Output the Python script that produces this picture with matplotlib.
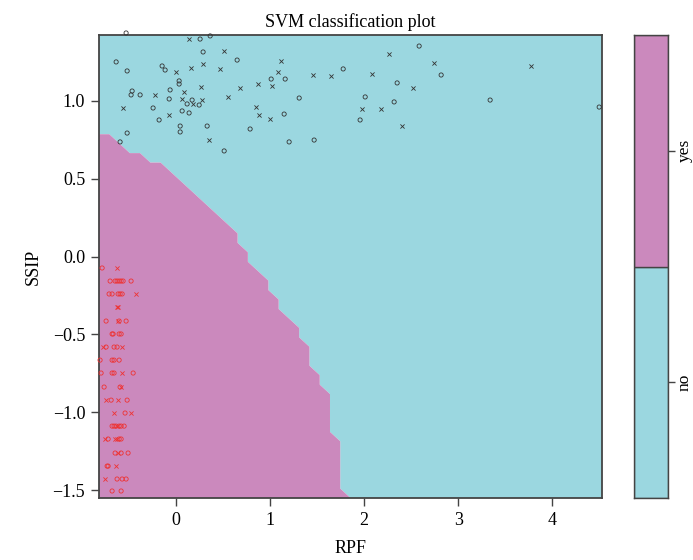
import numpy as np
import matplotlib
matplotlib.use("Agg")
import matplotlib.pyplot as plt

# ---- data ----
class_labels = ["no", "yes"]
# decision boundary of the "yes" region (x = RPF boundary at given SSIP)
boundary_y = [-1.55, -1.45, -1.10, -0.85, -0.70, -0.55, -0.40, -0.20, 0.00, 0.17, 0.32, 0.45, 0.56, 0.63, 0.78, 0.80]
boundary_x = [1.82, 1.76, 1.68, 1.58, 1.43, 1.36, 1.20, 0.99, 0.78, 0.60, 0.31, 0.06, -0.12, -0.30, -0.76, -0.85]

# class "no" points (black)
no_o_x = [-0.532, 0.255, 0.362, 0.287, -0.638, 0.649, -0.521, -0.149, -0.117, 1.777, 0.032, 0.032, 1.011, 1.160,
          -0.064, -0.468, -0.479, -0.383, -0.074, 0.170, 0.117, 0.245, 1.309, -0.245, 0.064, 0.138, 1.149, -0.181,
          0.043, 0.330, 0.043, 0.787, -0.521, -0.596, 1.202, 1.468, 0.511, 2.585, 2.819, 2.351, 2.011, 2.319,
          3.340, 4.500, 1.957]
no_o_y = [1.437, 1.398, 1.418, 1.315, 1.251, 1.263, 1.193, 1.225, 1.199, 1.206, 1.129, 1.109, 1.141, 1.141,
          1.071, 1.064, 1.039, 1.039, 1.013, 1.006, 0.981, 0.974, 1.019, 0.955, 0.936, 0.923, 0.916, 0.878,
          0.839, 0.839, 0.801, 0.820, 0.794, 0.737, 0.737, 0.749, 0.679, 1.353, 1.167, 1.116, 1.026, 0.994,
          1.006, 0.961, 0.878]
no_x_x = [0.138, 0.511, 1.117, 0.000, 0.160, 0.287, 0.468, 1.085, 1.457, 1.649, 0.872, 1.021, 0.266, 0.681,
          0.085, -0.223, 0.553, 0.064, 0.277, 0.181, -0.564, 0.851, -0.074, 0.883, 1.000, 0.351, 2.266, 2.745,
          3.777, 2.085, 2.521, 1.979, 2.181, 2.404]
no_x_y = [1.398, 1.321, 1.257, 1.186, 1.212, 1.238, 1.206, 1.186, 1.167, 1.161, 1.109, 1.096, 1.090, 1.084,
          1.058, 1.039, 1.026, 1.013, 1.006, 0.981, 0.955, 0.961, 0.910, 0.910, 0.884, 0.749, 1.302, 1.244,
          1.225, 1.174, 1.084, 0.949, 0.949, 0.839]

# class "yes" points (red)
yes_o_x = [-0.787,
           -0.702, -0.649, -0.628, -0.606, -0.585, -0.564, -0.479,
           -0.713, -0.681, -0.617, -0.596, -0.574,
           -0.745, -0.606, -0.532,
           -0.681, -0.670, -0.606, -0.585,
           -0.745, -0.660, -0.628,
           -0.809, -0.681, -0.660, -0.606,
           -0.798, -0.681, -0.660, -0.457,
           -0.766, -0.596,
           -0.691, -0.521,
           -0.543,
           -0.681, -0.660, -0.638, -0.606, -0.585, -0.553,
           -0.723, -0.606, -0.585,
           -0.649, -0.585, -0.511,
           -0.734, -0.723,
           -0.628, -0.574, -0.532,
           -0.681, -0.585]
yes_o_y = [-0.073,
           -0.157, -0.157, -0.157, -0.157, -0.157, -0.157, -0.157,
           -0.240, -0.240, -0.240, -0.240, -0.240,
           -0.414, -0.414, -0.414,
           -0.497, -0.497, -0.497, -0.497,
           -0.581, -0.581, -0.581,
           -0.665, -0.665, -0.665, -0.665,
           -0.748, -0.748, -0.748, -0.748,
           -0.838, -0.838,
           -0.922, -0.922,
           -1.005,
           -1.089, -1.089, -1.089, -1.089, -1.089, -1.089,
           -1.172, -1.172, -1.172,
           -1.262, -1.262, -1.262,
           -1.346, -1.346,
           -1.429, -1.429, -1.429,
           -1.506, -1.506]
yes_x_x = [-0.628, -0.426, -0.628, -0.617, -0.617, -0.777, -0.574, -0.574, -0.585, -0.745, -0.617,
           -0.660, -0.479, -0.628, -0.755, -0.649, -0.628, -0.617, -0.638, -0.755]
yes_x_y = [-0.073, -0.240, -0.324, -0.324, -0.414, -0.581, -0.581, -0.748, -0.838, -0.922, -0.922,
           -1.005, -1.005, -1.089, -1.172, -1.172, -1.172, -1.262, -1.346, -1.429]

x_ticks = [0, 1, 2, 3, 4]
y_ticks = [-1.5, -1.0, -0.5, 0.0, 0.5, 1.0]

# ---- style ----
col_no = "#9bd7e0"
col_yes = "#cb89bd"
edge = "#444444"
plt.rcParams['font.family'] = ['Liberation Serif', 'DejaVu Serif']
plt.rcParams['font.size'] = 13

xlim = (-0.82, 4.53)
ylim = (-1.551, 1.424)

fig = plt.figure(figsize=(6.93, 5.6), dpi=100)
ax = fig.add_axes([0.1429, 0.1107, 0.7258, 0.8268])
cax = fig.add_axes([0.9149, 0.1107, 0.049, 0.8268])

# decision regions on a 50x50 grid
gx = np.linspace(xlim[0], xlim[1], 50)
gy = np.linspace(ylim[0], ylim[1], 50)
GX, GY = np.meshgrid(gx, gy)
bx = np.interp(GY, boundary_y, boundary_x, left=boundary_x[0], right=-5.0)
Z = (GX < bx).astype(float)
ax.contourf(GX, GY, Z, levels=[-0.5, 0.5, 1.5], colors=[col_no, col_yes], antialiased=True)

ax.scatter(no_o_x, no_o_y, marker='o', s=9, facecolors='none', edgecolors='#333333', linewidths=0.6, clip_on=False, zorder=3)
ax.scatter(no_x_x, no_x_y, marker='x', s=9, color='#333333', linewidths=0.6, clip_on=False, zorder=3)
ax.scatter(yes_o_x, yes_o_y, marker='o', s=9, facecolors='none', edgecolors='#ee3333', linewidths=0.6, clip_on=False, zorder=3)
ax.scatter(yes_x_x, yes_x_y, marker='x', s=9, color='#ee3333', linewidths=0.6, clip_on=False, zorder=3)

ax.set_xlim(*xlim)
ax.set_ylim(*ylim)
ax.set_xticks(x_ticks)
ax.set_xticklabels([str(t) for t in x_ticks])
ax.set_yticks(y_ticks)
ax.set_yticklabels([f"{t:.1f}".replace("-", "\u2212") for t in y_ticks])
ax.tick_params(direction='out', length=6, width=1, color=edge, pad=4)
for s in ax.spines.values():
    s.set_color(edge)
    s.set_linewidth(1.3)
ax.set_xlabel("RPF", labelpad=8)
ax.set_ylabel("SSIP", labelpad=8)
ax.set_title("SVM classification plot", fontsize=13, pad=6)

# key
cax.bar([0.5], [1], bottom=[0], width=1, color=col_no, edgecolor=edge, linewidth=1.0)
cax.bar([0.5], [1], bottom=[1], width=1, color=col_yes, edgecolor=edge, linewidth=1.0)
cax.set_xlim(0, 1)
cax.set_ylim(0, 2)
cax.set_xticks([])
cax.yaxis.tick_right()
cax.set_yticks([0.5, 1.5])
cax.set_yticklabels(class_labels, rotation=90, va='center', fontsize=12.5)
cax.tick_params(direction='out', length=5, width=1, color=edge, pad=1)
for s in cax.spines.values():
    s.set_color(edge)
    s.set_linewidth(1.0)

fig.savefig("out.png", dpi=100)
